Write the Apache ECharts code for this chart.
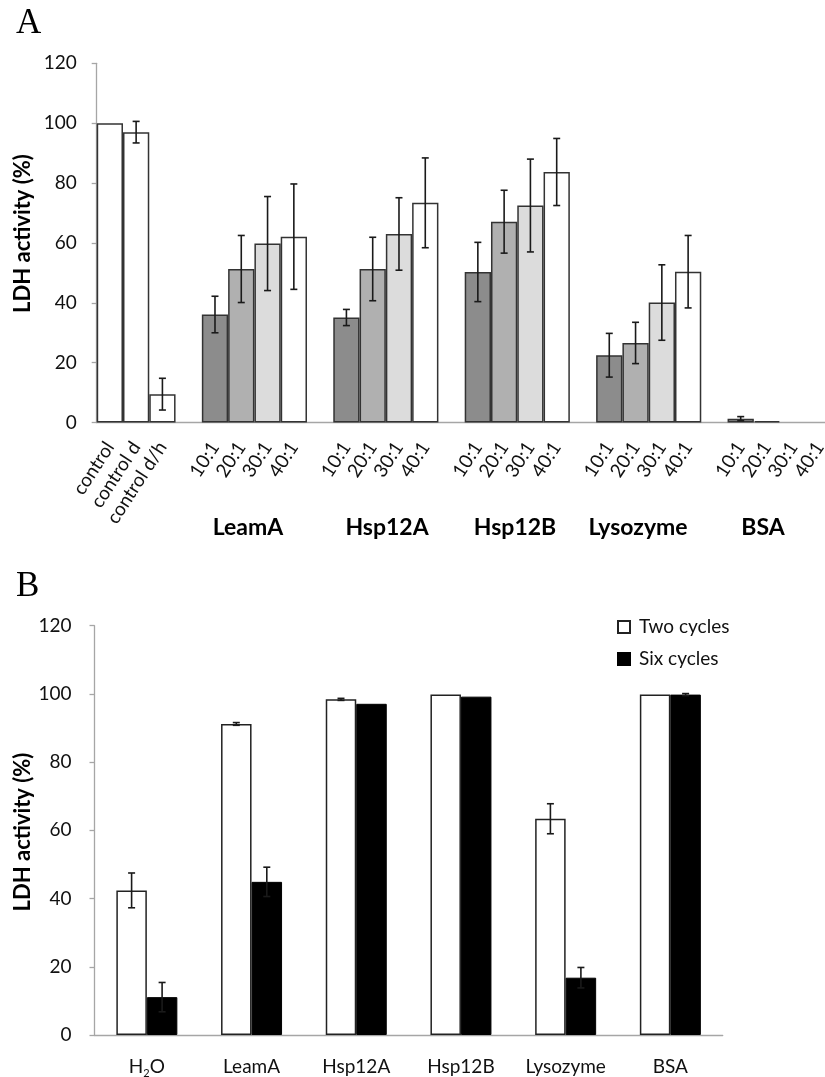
<!DOCTYPE html>
<html>
<head>
<meta charset="utf-8">
<script src="https://cdn.jsdelivr.net/npm/echarts@6/dist/echarts.min.js"></script>
<style>
html,body{margin:0;padding:0;background:#fff;}
#c{width:825px;height:1077px;}
</style>
</head>
<body>
<div id="c"></div>
<script>
// ---------- Panel A data ----------
const categoriesA = ['control','control d','control d/h','',
  '10:1','20:1','30:1','40:1','',
  '10:1','20:1','30:1','40:1','',
  '10:1','20:1','30:1','40:1','',
  '10:1','20:1','30:1','40:1','',
  '10:1','20:1','30:1','40:1'];
const valuesA = [100, 97, 9.5, '-',
  36.1, 51.3, 59.8, 62.1, '-',
  35.1, 51.3, 63.0, 73.4, '-',
  50.3, 67.1, 72.5, 83.7, '-',
  22.5, 26.6, 40.1, 50.4, '-',
  1.3, 0.5, 0, 0];
const errorsA = [0, 3.6, 5.3, '-',
  6.1, 11.2, 15.7, 17.6, '-',
  2.7, 10.6, 12.1, 15.0, '-',
  9.9, 10.5, 15.5, 11.2, '-',
  7.3, 6.9, 12.6, 12.1, '-',
  0.7, 0, 0, 0];
const groupsA = ['LeamA','Hsp12A','Hsp12B','Lysozyme','BSA'];
const yTicks = [0, 20, 40, 60, 80, 100, 120];

// ---------- Panel B data ----------
const categoriesB = ['H2O','LeamA','Hsp12A','Hsp12B','Lysozyme','BSA'];
const seriesNamesB = ['Two cycles','Six cycles'];
const twoCycles = [42.4, 91.2, 98.4, 99.8, 63.4, 99.8];
const twoErr    = [5.1, 0.4, 0.3, 0, 4.4, 0];
const sixCycles = [11.1, 44.9, 97.1, 99.2, 16.8, 99.8];
const sixErr    = [4.3, 4.3, 0, 0, 3.0, 0.3];

// ---------- styles ----------
const FONT = 'Lato';
const ratioColor = {'10:1':'#8c8c8c','20:1':'#b0b0b0','30:1':'#dcdcdc','40:1':'#ffffff'};
const axisGray = '#a6a6a6';
const groupLabelX = [248, 387, 515, 638, 763];
const barWidthB = 30.5;

const chart = echarts.init(document.getElementById('c'), null, {renderer:'canvas'});

const barDataA = valuesA.map((v, i) => {
  if (v === '-') return '-';
  return {
    value: v,
    itemStyle: {
      color: ratioColor[categoriesA[i]] || '#ffffff',
      borderWidth: v === 0 ? 0 : 1.5
    }
  };
});
const errDataA = [];
valuesA.forEach((v, i) => {
  const e = errorsA[i];
  if (v !== '-' && e !== '-' && e > 0) errDataA.push([i, v - e, v + e]);
});
const errDataTwo = twoCycles.map((v, i) => [i, v - twoErr[i], v + twoErr[i]]).filter((d, i) => twoErr[i] > 0);
const errDataSix = sixCycles.map((v, i) => [i, v - sixErr[i], v + sixErr[i]]).filter((d, i) => sixErr[i] > 0);

function errRender(offset) {
  return function (params, api) {
    const lo = api.coord([api.value(0), api.value(1)]);
    const hi = api.coord([api.value(0), api.value(2)]);
    const x = lo[0] + offset;
    const cap = 3.5;
    const st = {stroke:'#1a1a1a', lineWidth:1.6};
    return {
      type: 'group',
      children: [
        {type:'line', shape:{x1:x, y1:lo[1], x2:x, y2:hi[1]}, style:st},
        {type:'line', shape:{x1:x-cap, y1:lo[1], x2:x+cap, y2:lo[1]}, style:st},
        {type:'line', shape:{x1:x-cap, y1:hi[1], x2:x+cap, y2:hi[1]}, style:st}
      ]
    };
  };
}

const yAxisCommon = {
  type: 'value', min: yTicks[0], max: yTicks[yTicks.length-1], interval: yTicks[1]-yTicks[0],
  axisLine: {show:true, lineStyle:{color:axisGray, width:1.3}},
  axisTick: {show:true, length:5, lineStyle:{color:axisGray, width:1.3}},
  splitLine: {show:false},
  axisLabel: {fontFamily:FONT, fontSize:19, color:'#111', margin:20}
};

const option = {
  animation: false,
  backgroundColor: '#fff',
  grid: [
    {left: 96.7, top: 63.3, width: 736, height: 359.3, containLabel:false, outerBoundsMode:'none'},
    {left: 94.5, top: 625.7, width: 628.2, height: 409.3, containLabel:false, outerBoundsMode:'none'}
  ],
  xAxis: [
    {
      gridIndex: 0, type: 'category', data: categoriesA,
      axisLine: {lineStyle:{color:axisGray, width:1.3}},
      axisTick: {show:false},
      axisLabel: {interval:0, rotate:57, fontFamily:FONT, fontSize:19, color:'#111', margin:21}
    },
    {
      gridIndex: 1, type: 'category', data: categoriesB,
      axisLine: {lineStyle:{color:axisGray, width:1.3}},
      axisTick: {show:false},
      axisLabel: {
        interval:0, margin:22, color:'#111',
        formatter: v => v === 'H2O' ? '{n|H}{s|2}{n|O}' : '{n|' + v + '}',
        rich: {
          n: {fontFamily:FONT, fontSize:19, color:'#111', lineHeight:22, verticalAlign:'top'},
          s: {fontFamily:FONT, fontSize:11, color:'#111', lineHeight:12, verticalAlign:'bottom'}
        }
      }
    }
  ],
  yAxis: [
    Object.assign({gridIndex:0}, yAxisCommon),
    Object.assign({gridIndex:1}, yAxisCommon, {axisLabel:{fontFamily:FONT, fontSize:19, color:'#111', margin:23}})
  ],
  legend: {
    data: seriesNamesB,
    orient: 'vertical',
    left: 612, top: 611,
    itemWidth: 12, itemHeight: 12, itemGap: 10,
    icon: 'rect',
    textStyle: {fontFamily:FONT, fontSize:19, color:'#111', lineHeight:22, padding:[0,0,0,4]}
  },
  series: [
    {
      type: 'bar', xAxisIndex:0, yAxisIndex:0, data: barDataA,
      barCategoryGap: '0%', barGap: '0%',
      itemStyle: {borderColor:'#333', borderWidth:1.5}
    },
    {
      type: 'custom', xAxisIndex:0, yAxisIndex:0, data: errDataA,
      renderItem: errRender(0), z: 10
    },
    {
      name: seriesNamesB[0], type: 'bar', xAxisIndex:1, yAxisIndex:1, data: twoCycles,
      barWidth: barWidthB, barGap: '0%',
      itemStyle: {color:'#ffffff', borderColor:'#222', borderWidth:1.5}
    },
    {
      name: seriesNamesB[1], type: 'bar', xAxisIndex:1, yAxisIndex:1, data: sixCycles,
      barWidth: barWidthB, barGap: '0%',
      itemStyle: {color:'#000000', borderColor:'#000', borderWidth:1}
    },
    {
      type: 'custom', xAxisIndex:1, yAxisIndex:1, data: errDataTwo,
      renderItem: errRender(-barWidthB/2), z: 10
    },
    {
      type: 'custom', xAxisIndex:1, yAxisIndex:1, data: errDataSix,
      renderItem: errRender(barWidthB/2), z: 10
    }
  ],
  graphic: [
    {type:'text', left:16, top:6, style:{text:'A', font:'35px "Liberation Serif"', fill:'#000'}},
    {type:'text', left:16, top:569, style:{text:'B', font:'35px "Liberation Serif"', fill:'#000'}},
    {type:'text', x:23, y:233.5, rotation:Math.PI/2,
      style:{text:'LDH activity (%)', font:'bold 22px ' + FONT, fill:'#000', align:'center', verticalAlign:'middle'}},
    {type:'text', x:22.5, y:832, rotation:Math.PI/2,
      style:{text:'LDH activity (%)', font:'bold 22px ' + FONT, fill:'#000', align:'center', verticalAlign:'middle'}}
  ].concat(groupsA.map((g, i) => ({
    type:'text', x: groupLabelX[i], y: 528,
    style:{text:g, font:'bold 23px ' + FONT, fill:'#000', align:'center', verticalAlign:'middle'}
  })))
};
chart.setOption(option);
</script>
</body>
</html>
